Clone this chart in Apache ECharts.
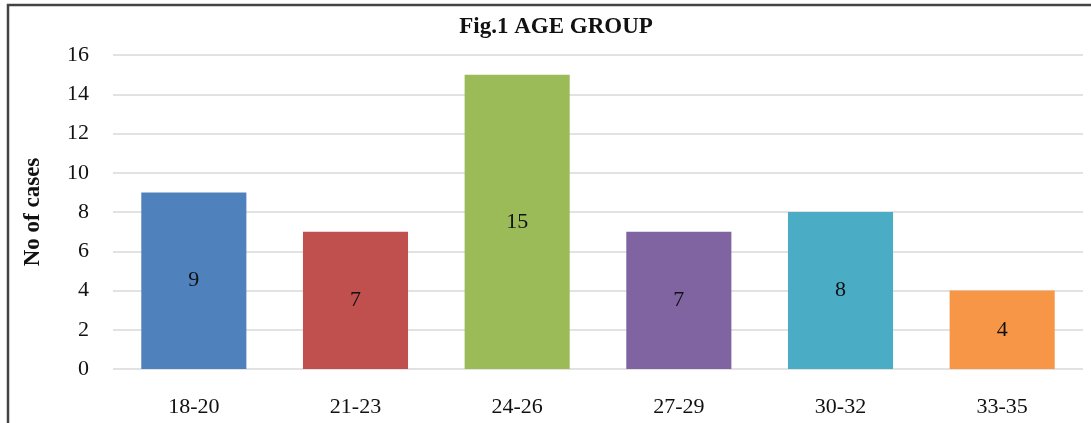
<!DOCTYPE html>
<html>
<head>
<meta charset="utf-8">
<script src="https://cdn.jsdelivr.net/npm/echarts@6/dist/echarts.min.js"></script>
<style>
  html, body { margin: 0; padding: 0; background: #fff; }
  #chart { width: 1091px; height: 423px; }
</style>
</head>
<body>
<div id="chart"></div>
<script>
// Age groups and the number of cases in each
const categories = ['18-20', '21-23', '24-26', '27-29', '30-32', '33-35'];
const cases = [9, 7, 15, 7, 8, 4];
const barColors = ['#4F81BD', '#C0504D', '#9BBB59', '#8064A2', '#4BACC6', '#F79646'];
const yTicks = [0, 2, 4, 6, 8, 10, 12, 14, 16];

const serif = '"Liberation Serif", "Times New Roman", serif';
const chart = echarts.init(document.getElementById('chart'));

chart.setOption({
  animation: false,
  title: {
    text: 'Fig.1 AGE GROUP',
    left: 551,
    textAlign: 'center',
    top: 11,
    textStyle: { fontFamily: serif, fontSize: 23, fontWeight: 'bold', color: '#111' }
  },
  grid: { left: 113, right: 8, top: 55, bottom: 54, containLabel: false },
  xAxis: {
    type: 'category',
    data: categories,
    axisLine: { show: false },
    axisTick: { show: false },
    axisLabel: { fontFamily: serif, fontSize: 22, color: '#111', margin: 27 }
  },
  yAxis: {
    type: 'value',
    min: yTicks[0],
    max: yTicks[yTicks.length - 1],
    interval: 2,
    name: 'No of cases',
    nameLocation: 'middle',
    nameGap: 68,
    nameRotate: 90,
    nameTextStyle: { fontFamily: serif, fontSize: 23, fontWeight: 'bold', color: '#111' },
    axisLine: { show: false },
    axisTick: { show: false },
    axisLabel: { fontFamily: serif, fontSize: 22, color: '#111', margin: 24 },
    splitLine: { lineStyle: { color: '#d9d9d9', width: 1.5 } }
  },
  series: [{
    type: 'bar',
    barWidth: '65%',
    data: cases.map((v, i) => ({ value: v, itemStyle: { color: barColors[i] } })),
    label: {
      show: true,
      position: 'inside',
      fontFamily: serif,
      fontSize: 22,
      color: '#111'
    }
  }],
  graphic: [{
    type: 'rect',
    shape: { x: 8, y: 5, width: 1200, height: 500 },
    style: { fill: 'none', stroke: '#444', lineWidth: 2.5 },
    silent: true
  }]
});
</script>
</body>
</html>
